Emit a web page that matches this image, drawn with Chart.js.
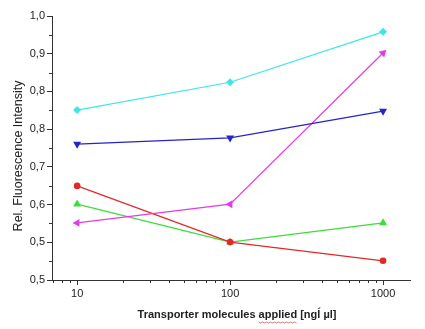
<!DOCTYPE html>
<html>
<head>
<meta charset="utf-8">
<script src="https://cdn.jsdelivr.net/npm/chart.js@4"></script>
<style>
  html, body { margin: 0; padding: 0; background: #fff; }
  #wrap { width: 425px; height: 329px; }
</style>
</head>
<body>
<div id="wrap"><canvas id="chart" width="425" height="329"></canvas></div>
<script>
// ── data ───────────────────────────────────────────────────────────────────
const X_VALUES = [10, 100, 1000];
const CYAN    = [0.804, 0.862, 0.967];
const BLUE    = [0.733, 0.746, 0.802];
const MAGENTA = [0.569, 0.608, 0.923];
const RED     = [0.646, 0.529, 0.490];
const GREEN   = [0.608, 0.529, 0.569];

// axis ticks (the original rounds its odd steps to one decimal)
const Y_TICKS  = [0.45, 0.5286, 0.6071, 0.6857, 0.7643, 0.8429, 0.9214, 1.0];
const Y_LABELS = ['0,5', '0,5', '0,6', '0,7', '0,8', '0,8', '0,9', '1,0'];
const X_TICKS  = [10, 100, 1000];

const Y_TITLE = 'Rel. Fluorescence Intensity';
const X_TITLE = 'Transporter molecules applied [ngĺ µl]';

const AXIS_COLOR = '#333';
const FONT = '"Liberation Sans", Arial, sans-serif';

function series(vals) { return vals.map((v, i) => ({ x: X_VALUES[i], y: v })); }

function ds(label, vals, color, style, rot) {
  const radius = style === 'rectRot' ? 4 : style === 'circle' ? 3.3 : 4.6;
  return {
    label, data: series(vals),
    borderColor: color, backgroundColor: color,
    borderWidth: 1.2, pointStyle: style, pointRotation: rot || 0,
    pointRadius: radius, pointBorderWidth: 0,
    tension: 0
  };
}

// minor ticks + axis titles, drawn from the scales
const extras = {
  id: 'extras',
  afterDraw(chart) {
    const { ctx, scales: { x, y }, chartArea: a } = chart;
    ctx.save();
    ctx.strokeStyle = AXIS_COLOR;
    ctx.lineWidth = 1;
    ctx.beginPath();
    for (let i = 0; i < Y_TICKS.length - 1; i++) {
      const py = Math.round(y.getPixelForValue((Y_TICKS[i] + Y_TICKS[i + 1]) / 2)) + 0.5;
      ctx.moveTo(a.left - 3, py); ctx.lineTo(a.left, py);
    }
    for (let dec = 1; dec <= 1000; dec *= 10) {
      for (let m = 2; m <= 9; m++) {
        const v = m * dec;
        if (v <= x.min || v >= x.max || X_TICKS.includes(v)) continue;
        const px = Math.round(x.getPixelForValue(v)) + 0.5;
        ctx.moveTo(px, a.bottom); ctx.lineTo(px, a.bottom + 3);
      }
    }
    ctx.stroke();

    // y title
    ctx.fillStyle = '#222';
    ctx.font = '12.5px ' + FONT;
    ctx.textAlign = 'center';
    ctx.textBaseline = 'middle';
    ctx.save();
    ctx.translate(19, 156);
    ctx.rotate(-Math.PI / 2);
    ctx.fillText(Y_TITLE, 0, 0);
    ctx.restore();

    // x title, with the red spell-check squiggle under "applied"
    ctx.font = 'bold 11px ' + FONT;
    const cx = 237, cy = 315;
    ctx.fillText(X_TITLE, cx, cy);
    const full = ctx.measureText(X_TITLE).width;
    const pre = ctx.measureText('Transporter molecules ').width;
    const word = ctx.measureText('applied').width;
    const sx = cx - full / 2 + pre;
    ctx.strokeStyle = 'rgba(220,60,60,0.7)';
    ctx.beginPath();
    for (let px = 0; px <= word; px += 2) {
      const yy = cy + 7 + (Math.floor(px / 2) % 2 ? 1 : 0);
      if (px === 0) ctx.moveTo(sx + px, yy); else ctx.lineTo(sx + px, yy);
    }
    ctx.stroke();
    ctx.restore();
  }
};

new Chart(document.getElementById('chart'), {
  type: 'line',
  data: {
    datasets: [
      ds('cyan', CYAN, '#3ee6e6', 'rectRot'),
      ds('blue', BLUE, '#2424c8', 'triangle', 180),
      ds('magenta', MAGENTA, '#e43ce4', 'triangle', [-90, -90, 45]),
      ds('red', RED, '#e42828', 'circle'),
      ds('green', GREEN, '#3cdc3c', 'triangle')
    ]
  },
  options: {
    responsive: false,
    animation: false,
    layout: { padding: { top: 16, right: 15, left: 0, bottom: 0 } },
    plugins: { legend: { display: false }, tooltip: { enabled: false } },
    scales: {
      x: {
        type: 'logarithmic', min: 6.85, max: 1500,
        afterBuildTicks: axis => { axis.ticks = X_TICKS.map(v => ({ value: v })); },
        afterFit: axis => { axis.height = 49; },
        ticks: { color: '#222', font: { family: FONT, size: 11 }, padding: 2,
                 maxRotation: 0, autoSkip: false, callback: v => String(v) },
        grid: { drawOnChartArea: false, drawTicks: true, tickLength: 5, color: AXIS_COLOR },
        border: { display: true, color: AXIS_COLOR, width: 1 }
      },
      y: {
        type: 'linear', min: 0.45, max: 1.0,
        afterBuildTicks: axis => { axis.ticks = Y_TICKS.map(v => ({ value: v })); },
        afterFit: axis => { axis.width = 52; },
        ticks: { color: '#222', font: { family: FONT, size: 11 }, padding: 2,
                 autoSkip: false, callback: (v, i) => Y_LABELS[i] },
        grid: { drawOnChartArea: false, drawTicks: true, tickLength: 5, color: AXIS_COLOR },
        border: { display: true, color: AXIS_COLOR, width: 1 }
      }
    }
  },
  plugins: [extras]
});
</script>
</body>
</html>
